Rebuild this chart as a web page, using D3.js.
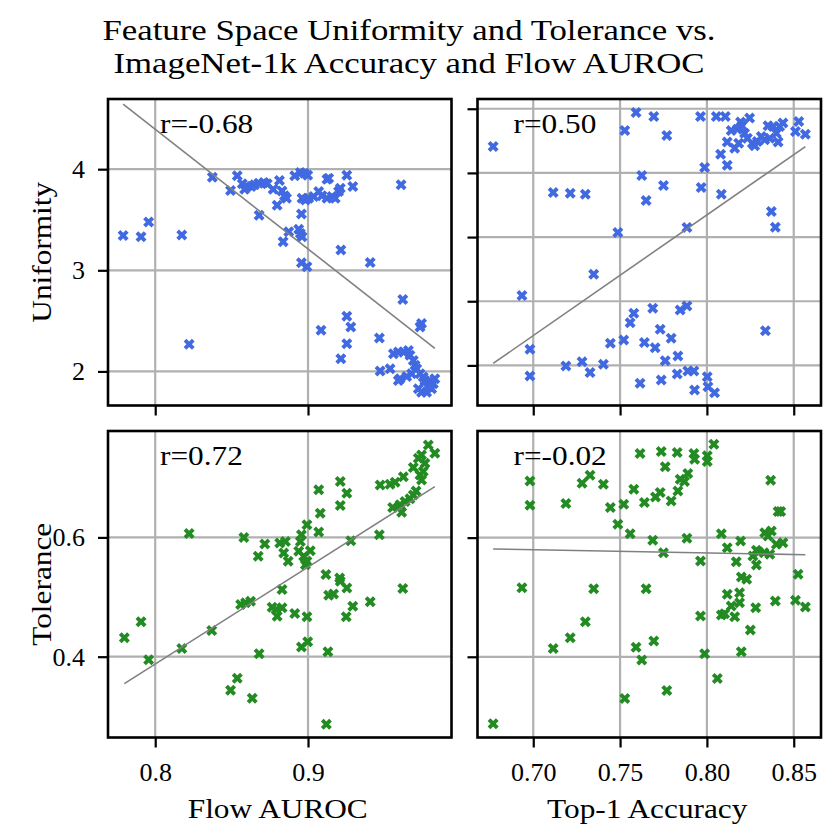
<!DOCTYPE html>
<html>
<head>
<meta charset="utf-8">
<script src="https://cdn.jsdelivr.net/npm/d3@7"></script>
<style>
  html, body { margin: 0; padding: 0; background: #fff; }
  svg { display: block; }
  text { font-family: "Liberation Serif", "DejaVu Serif", serif; fill: #000; }
</style>
</head>
<body>
<div id="chart"></div>
<script>
// Uniformity vs Flow AUROC (top left)
const uniAurocX = [0.779,0.7907,0.7957,0.8174,0.8222,0.8374,0.8493,0.8537,0.8570,0.8585,0.8602,0.8628,0.8650,0.8678,0.8711,0.8733,0.8772,0.8813,0.8830,0.8846,0.8859,0.8798,0.8680,0.8913,0.8950,0.8976,0.8998,0.8961,0.8983,0.9004,0.9037,0.9070,0.9091,0.9124,0.9157,0.9178,0.9200,0.9211,0.9124,0.9135,0.9254,0.9293,0.8957,0.8939,0.8874,0.8837,0.8961,0.8950,0.8957,0.8993,0.9215,0.9407,0.9609,0.9620,0.9254,0.9280,0.9085,0.9254,0.9215,0.9467,0.9743,0.9733,0.9559,0.9591,0.9624,0.9657,0.9667,0.9689,0.9700,0.9711,0.9678,0.9646,0.9602,0.9591,0.9537,0.9472,0.9733,0.9754,0.9765,0.9787,0.9820,0.9830,0.9809,0.9776,0.9743,0.9722,0.9787];
const uniAurocY = [3.345,3.332,3.478,3.349,2.268,3.921,3.788,3.934,3.855,3.802,3.828,3.828,3.845,3.861,3.868,3.855,3.802,3.888,3.785,3.736,3.712,3.643,3.544,3.934,3.967,3.960,3.940,3.712,3.696,3.712,3.729,3.779,3.736,3.712,3.729,3.712,3.779,3.812,3.901,3.911,3.940,3.828,3.557,3.405,3.382,3.283,3.332,3.365,3.074,3.035,3.200,3.078,3.845,2.711,2.545,2.440,2.407,2.274,2.126,2.331,2.473,2.440,2.175,2.192,2.192,2.208,2.159,2.109,2.060,2.026,1.977,1.950,1.927,1.911,2.026,2.003,1.977,1.944,1.911,1.894,1.878,1.927,1.828,1.795,1.795,1.828,1.845];

// Uniformity vs Top-1 accuracy (top right)
const uniAccX = [0.6769,0.6935,0.6981,0.6981,0.7115,0.7213,0.7300,0.7348,0.7188,0.7281,0.7327,0.7404,0.7444,0.7487,0.7521,0.7527,0.7558,0.7579,0.7592,0.7615,0.7625,0.7640,0.7650,0.7688,0.7694,0.7702,0.7731,0.7737,0.7750,0.7760,0.7769,0.7794,0.7829,0.7833,0.7846,0.7885,0.7885,0.7890,0.7925,0.7929,0.7963,0.7967,0.7987,0.8002,0.8006,0.8044,0.8054,0.8079,0.8083,0.8106,0.8117,0.8117,0.8140,0.8160,0.8175,0.8183,0.8194,0.8202,0.8217,0.8233,0.8246,0.8262,0.8275,0.8290,0.8313,0.8333,0.8352,0.8362,0.8381,0.8400,0.8410,0.8419,0.8438,0.8510,0.8529,0.8567,0.8337,0.8371,0.8394];
const uniAccY = [3.706,2.544,2.125,1.917,3.347,3.342,3.334,2.710,1.995,2.029,1.945,2.008,2.172,3.035,2.198,3.831,2.333,2.406,3.971,1.860,3.480,2.179,3.285,2.445,3.940,2.138,2.281,1.886,3.402,2.036,3.792,2.211,1.932,2.073,2.432,2.463,3.074,1.956,1.956,1.808,3.940,3.386,3.542,1.912,1.834,1.787,3.940,3.646,3.334,3.940,3.740,3.560,3.831,3.693,3.841,3.732,3.896,3.867,3.810,3.771,3.927,3.732,3.711,3.745,3.784,3.758,3.867,3.771,3.862,3.810,3.740,3.862,3.888,3.823,3.901,3.802,2.270,3.199,3.077];

// Tolerance vs Flow AUROC (bottom left)
const tolAurocX = [0.7798,0.7907,0.7957,0.8174,0.8222,0.8370,0.8493,0.8537,0.8635,0.8559,0.8591,0.8624,0.8580,0.8674,0.8680,0.8717,0.8765,0.8798,0.8791,0.8830,0.8830,0.8815,0.8852,0.8841,0.8870,0.8913,0.8939,0.8950,0.8957,0.8972,0.8983,0.8993,0.8993,0.9015,0.8957,0.8998,0.8993,0.9070,0.9080,0.9070,0.9117,0.9135,0.9167,0.9130,0.9120,0.9211,0.9211,0.9254,0.9207,0.9211,0.9254,0.9293,0.9250,0.9280,0.9407,0.9467,0.9472,0.9537,0.9570,0.9624,0.9620,0.9554,0.9602,0.9613,0.9635,0.9667,0.9689,0.9707,0.9689,0.9722,0.9743,0.9765,0.9787,0.9830,0.9733,0.9743,0.9754];
const tolAurocY = [0.4318,0.4585,0.3950,0.4139,0.6067,0.4440,0.3437,0.3638,0.3304,0.4875,0.4903,0.4930,0.6000,0.5682,0.4050,0.5889,0.4830,0.4680,0.4791,0.5125,0.4819,0.5905,0.5933,0.5738,0.5599,0.4724,0.5766,0.5933,0.6045,0.5682,0.5543,0.6212,0.5599,0.5777,0.4162,0.4251,0.4669,0.6797,0.6407,0.6089,0.5376,0.5031,0.5053,0.4084,0.2869,0.6936,0.6535,0.6741,0.5320,0.5265,0.5153,0.4847,0.4669,0.5944,0.4919,0.6045,0.6880,0.6891,0.6925,0.7019,0.5142,0.6501,0.6546,0.6423,0.6602,0.6646,0.6713,0.6780,0.7170,0.7326,0.7382,0.7242,0.7549,0.7409,0.7047,0.6964,0.7103];

// Tolerance vs Top-1 accuracy (bottom right)
const tolAccX = [0.6769,0.6935,0.6981,0.6981,0.7115,0.7188,0.7213,0.7281,0.7300,0.7327,0.7348,0.7404,0.7444,0.7487,0.7521,0.7527,0.7558,0.7579,0.7592,0.7615,0.7625,0.7640,0.7650,0.7688,0.7694,0.7704,0.7731,0.7737,0.7750,0.7760,0.7769,0.7794,0.7829,0.7833,0.7846,0.7871,0.7885,0.7890,0.7925,0.7929,0.7963,0.7963,0.7987,0.8002,0.8002,0.8040,0.8060,0.8083,0.8083,0.8102,0.8117,0.8117,0.8140,0.8160,0.8169,0.8188,0.8188,0.8194,0.8198,0.8198,0.8229,0.8250,0.8265,0.8281,0.8285,0.8285,0.8298,0.8329,0.8333,0.8352,0.8362,0.8367,0.8371,0.8394,0.8400,0.8410,0.8425,0.8438,0.8510,0.8525,0.8567];
const tolAccY = [0.2874,0.5160,0.6952,0.6543,0.4140,0.6571,0.4319,0.6913,0.4588,0.7048,0.5143,0.6896,0.6504,0.6224,0.6560,0.3300,0.6067,0.6812,0.4162,0.7412,0.3944,0.6588,0.5143,0.5955,0.4263,0.6683,0.6756,0.7445,0.5748,0.7188,0.3434,0.6616,0.7429,0.6784,0.6980,0.6941,0.5989,0.7076,0.7412,0.7317,0.5608,0.4683,0.4050,0.7373,0.7277,0.7569,0.3636,0.6067,0.4700,0.4723,0.5832,0.5048,0.4852,0.4672,0.5597,0.5076,0.4908,0.5944,0.5339,0.4084,0.5300,0.4448,0.5692,0.4824,0.5787,0.5541,0.5759,0.5748,0.6084,0.6028,0.5720,0.6964,0.6112,0.4936,0.5888,0.6437,0.6437,0.5916,0.4947,0.5384,0.4835];

// Texts and ticks
const titleLines = ["Feature Space Uniformity and Tolerance vs.", "ImageNet-1k Accuracy and Flow AUROC"];
const rLabels = ["r=-0.68", "r=0.50", "r=0.72", "r=-0.02"];
const xLabels = ["Flow AUROC", "Top-1 Accuracy"];
const yLabels = ["Uniformity", "Tolerance"];
const aurocTicks = [0.8, 0.9];
const accTicks = [0.70, 0.75, 0.80, 0.85];
const uniTicksLeft = [2, 3, 4];
const uniTicksRight = [2.0, 2.5, 3.0, 3.5, 4.0];
const tolTicks = [0.4, 0.6];

function pageLoad() {

const W = 830, H = 830;
const colX = [108, 477.5], panelW = 343.5;
const rowY = [99, 431], panelH = 306.5;
// The original was set in Computer Modern, which runs wider than Liberation Serif
const wide = 1.16;

const svg = d3.select("#chart")
  .append("svg")
    .attr("width", W)
    .attr("height", H);

// Text stretched horizontally to the width of the original font
function label(x, y, str, size, anchor, rot) {
  return svg.append("text")
    .attr("transform", "translate(" + x + "," + y + ")" + (rot ? " rotate(" + rot + ")" : "") + " scale(" + wide + ",1)")
    .attr("text-anchor", anchor)
    .style("font-size", size + "px")
    .text(str);
}

// matplotlib "X" filled marker outline
const xShape = [[-0.25,-0.5],[0,-0.25],[0.25,-0.5],[0.5,-0.25],[0.25,0],[0.5,0.25],
                [0.25,0.5],[0,0.25],[-0.25,0.5],[-0.5,0.25],[-0.25,0],[-0.5,-0.25]];
const markerSize = 11;
const markerPath = "M" + xShape.map(p => (p[0]*markerSize).toFixed(2) + "," + (p[1]*markerSize).toFixed(2)).join("L") + "Z";

const panels = [
  { col: 0, row: 0, xs: uniAurocX, ys: uniAurocY, xDom: [0.7691, 0.9939], yDom: [1.663, 4.694],
    xTicks: aurocTicks, yTicks: uniTicksLeft, xFmt: null, yFmt: d3.format("d"), color: "#4169e1", r: rLabels[0] },
  { col: 1, row: 0, xs: uniAccX, ys: uniAccY, xDom: [0.6679, 0.8657], yDom: [1.6875, 4.076],
    xTicks: accTicks, yTicks: uniTicksRight, xFmt: null, yFmt: null, color: "#4169e1", r: rLabels[1] },
  { col: 0, row: 1, xs: tolAurocX, ys: tolAurocY, xDom: [0.7691, 0.9939], yDom: [0.2645, 0.7784],
    xTicks: aurocTicks, yTicks: tolTicks, xFmt: d3.format(".1f"), yFmt: d3.format(".1f"), color: "#228b22", r: rLabels[2] },
  { col: 1, row: 1, xs: tolAccX, ys: tolAccY, xDom: [0.6679, 0.8657], yDom: [0.2645, 0.779],
    xTicks: accTicks, yTicks: tolTicks, xFmt: d3.format(".2f"), yFmt: null, color: "#228b22", r: rLabels[3] }
];

panels.forEach(function (p) {
  const g = svg.append("g")
    .attr("transform", "translate(" + colX[p.col] + "," + rowY[p.row] + ")");

  const x = d3.scaleLinear().domain(p.xDom).range([0, panelW]);
  const y = d3.scaleLinear().domain(p.yDom).range([panelH, 0]);

  // Grid
  g.append("g").selectAll("line")
    .data(p.xTicks)
    .join("line")
      .attr("x1", d => x(d)).attr("x2", d => x(d))
      .attr("y1", 0).attr("y2", panelH)
      .attr("stroke", "#b0b0b0").attr("stroke-width", 2.2);
  g.append("g").selectAll("line")
    .data(p.yTicks)
    .join("line")
      .attr("x1", 0).attr("x2", panelW)
      .attr("y1", d => y(d)).attr("y2", d => y(d))
      .attr("stroke", "#b0b0b0").attr("stroke-width", 2.2);

  // Points
  const pts = p.xs.map((v, i) => [v, p.ys[i]]);
  g.append("g").selectAll("path")
    .data(pts)
    .join("path")
      .attr("d", markerPath)
      .attr("transform", d => "translate(" + x(d[0]) + "," + y(d[1]) + ")")
      .attr("fill", p.color);

  // Least squares fit over the x range
  const mx = d3.mean(p.xs), my = d3.mean(p.ys);
  const sxy = d3.sum(pts, d => (d[0] - mx) * (d[1] - my));
  const sxx = d3.sum(p.xs, v => (v - mx) * (v - mx));
  const slope = sxy / sxx, icpt = my - slope * mx;
  const ext = d3.extent(p.xs);
  g.append("path")
    .datum(ext.map(v => [v, icpt + slope * v]))
    .attr("fill", "none")
    .attr("stroke", "#808080")
    .attr("stroke-width", 1.6)
    .attr("d", d3.line().x(d => x(d[0])).y(d => y(d[1])));

  // Frame
  g.append("rect")
    .attr("width", panelW).attr("height", panelH)
    .attr("fill", "none").attr("stroke", "#000").attr("stroke-width", 2.6);

  // Axes (ticks only)
  const xAxis = g.append("g")
    .attr("transform", "translate(0," + panelH + ")")
    .call(d3.axisBottom(x).tickValues(p.xTicks).tickSize(10).tickPadding(15)
      .tickFormat(p.xFmt ? p.xFmt : () => ""));
  const yAxis = g.append("g")
    .call(d3.axisLeft(y).tickValues(p.yTicks).tickSize(10).tickPadding(13)
      .tickFormat(p.yFmt ? p.yFmt : () => ""));
  [xAxis, yAxis].forEach(a => {
    a.select(".domain").remove();
    a.selectAll(".tick line").attr("stroke", "#000").attr("stroke-width", 2.2);
    a.selectAll(".tick text")
      .style("font-family", "'Liberation Serif', serif")
      .style("font-size", "26px").attr("fill", "#000");
  });

  // Correlation label
  label(colX[p.col] + (p.col === 0 ? 52 : 36), rowY[p.row] + 34, p.r, 27, "start");
});

// Axis labels
xLabels.forEach((t, i) => label(colX[i] + panelW / 2 - 2, 818, t, 27, "middle"));
yLabels.forEach((t, i) => label(51, rowY[i] + panelH / 2, t, 27, "middle", -90));

// Title
titleLines.forEach((t, i) => label(409, 40 + i * 33, t, 30, "middle"));
}

window.addEventListener("load", pageLoad);
</script>
</body>
</html>
